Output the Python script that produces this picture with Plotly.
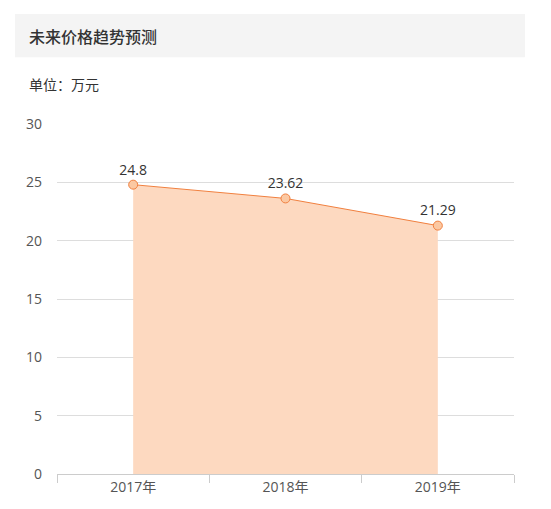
import plotly.graph_objects as go

years = ["2017年", "2018年", "2019年"]
prices = [24.8, 23.62, 21.29]
price_labels = ["24.8", "23.62", "21.29"]
y_ticks = [0, 5, 10, 15, 20, 25, 30]

font_family = "Open Sans, Noto Sans CJK SC, sans-serif"

fig = go.Figure()
fig.add_trace(go.Scatter(
    x=years, y=prices,
    mode="lines+markers+text",
    text=price_labels,
    textposition="top center",
    textfont=dict(size=14, color="#333333"),
    fill="tozeroy",
    fillcolor="rgba(253,217,192,1)",
    line=dict(color="#f1803f", width=1),
    marker=dict(size=9, color="#fbc8a2", line=dict(color="#f1803f", width=1)),
    cliponaxis=False,
    hoverinfo="skip",
))

# gray header bar
fig.add_shape(type="rect", xref="paper", yref="paper",
              x0=-0.092, x1=1.024, y0=1.191, y1=1.314,
              fillcolor="#f4f4f4", line=dict(width=0), layer="below")
fig.add_annotation(text="未来价格趋势预测", xref="paper", yref="paper",
                   x=-0.066, y=1.252, xanchor="left", yanchor="middle",
                   showarrow=False,
                   font=dict(size=16, color="#333333", family="Noto Sans CJK SC", weight=500))
fig.add_annotation(text="单位：万元", xref="paper", yref="paper",
                   x=-0.066, y=1.114, xanchor="left", yanchor="middle",
                   showarrow=False,
                   font=dict(size=14, color="#333333", family="Noto Sans CJK SC"))

fig.update_layout(
    width=543, height=501,
    margin=dict(l=49, r=37, t=116, b=35),
    plot_bgcolor="white", paper_bgcolor="white",
    font=dict(family=font_family, color="#555555"),
    showlegend=False,
    xaxis=dict(
        type="category", tickson="boundaries",
        ticks="outside", ticklen=8, tickcolor="#cccccc",
        showline=True, linecolor="#cccccc", linewidth=1,
        showgrid=False, range=[-0.5, 2.5],
        tickfont=dict(size=14, color="#555555"),
    ),
    yaxis=dict(
        range=[0, 30], tickvals=y_ticks,
        showgrid=True, gridcolor="#dddddd", gridwidth=1,
        zeroline=False, showline=False,
        ticks="", ticklabelstandoff=14,
        tickfont=dict(size=14, color="#555555"),
    ),
)

fig.write_html("out.html")
